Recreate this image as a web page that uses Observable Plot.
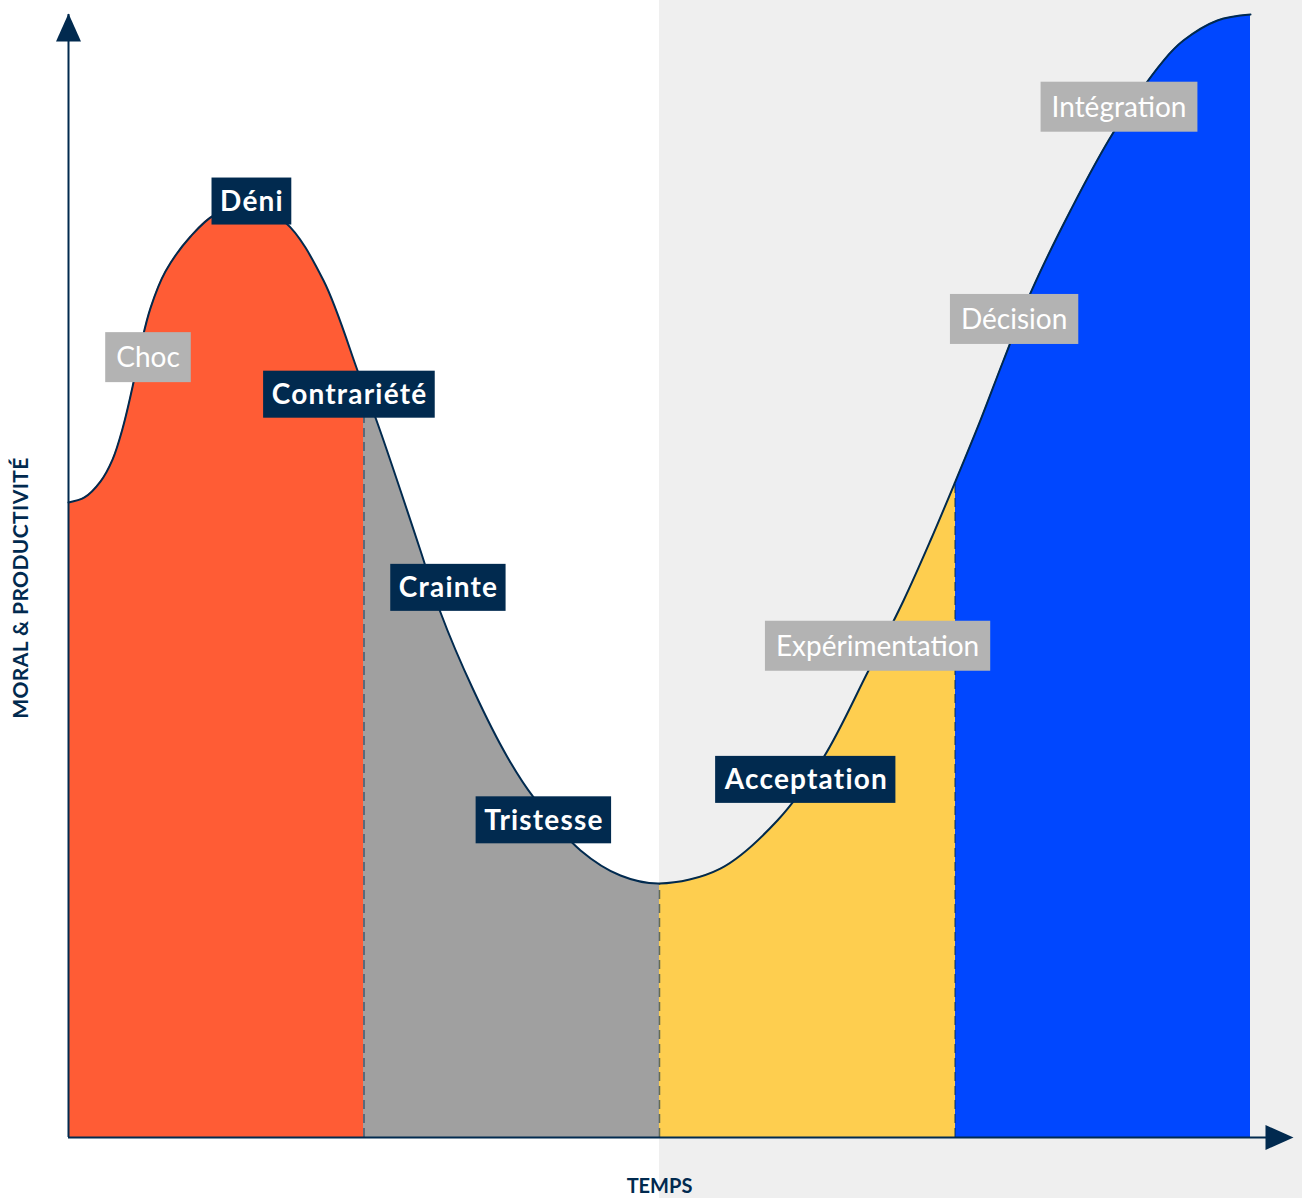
<!DOCTYPE html>
<html><head><meta charset="utf-8">
<script src="https://cdn.jsdelivr.net/npm/d3@7"></script>
<script src="https://cdn.jsdelivr.net/npm/@observablehq/plot@0.6"></script>
<style>
html,body{margin:0;padding:0;background:#fff;}
#chart svg{display:block;}
</style></head><body><div id="chart"></div>
<script>
// ---- data ----
const timeX = [0, 0.054, 0.108, 0.149, 0.183, 0.217, 0.247, 0.278, 0.328, 0.413, 0.497, 0.616, 0.734, 0.863, 0.978, 1.0, 1.046, 1.191, 1.259, 1.371, 1.486, 1.574, 1.733, 1.868, 2.0, 2.206, 2.399, 2.555, 2.704, 2.826, 2.917, 3.0, 3.086, 3.164, 3.255, 3.391, 3.536, 3.706, 3.773, 3.888, 4.0];
const moral = [56.55, 57.00, 58.41, 60.37, 63.13, 66.87, 70.79, 73.90, 77.11, 80.23, 82.19, 82.90, 81.48, 76.31, 68.30, 66.79, 63.58, 52.27, 46.75, 39.80, 33.84, 30.28, 25.56, 23.33, 22.62, 23.95, 28.23, 33.84, 41.41, 47.82, 53.16, 58.33, 63.85, 69.19, 75.16, 82.55, 89.49, 95.90, 97.68, 99.47, 100.0];
const stageBounds = [0, 1, 2, 3, 4];
const stageColors = ["#FF5C35", "#A0A0A0", "#FECE4F", "#0047FF"];
const labelText = ["Choc", "Déni", "Contrariété", "Crainte", "Tristesse", "Acceptation", "Expérimentation", "Décision", "Intégration"];
const labelX = [0.269, 0.621, 0.951, 1.286, 1.609, 2.497, 2.738, 3.200, 3.555];
const labelY = [69.4, 83.3, 66.1, 48.9, 28.2, 31.8, 43.7, 72.8, 91.7];
const labelKind = ["light", "dark", "dark", "dark", "dark", "dark", "light", "light", "light"];
const yTitle = "MORAL & PRODUCTIVITÉ";
const xTitle = "TEMPS";

// ---- build ----
const navy = "#012a4f";
const pts = timeX.map((x, i) => ({x, y: moral[i]}));
const inner = stageBounds.slice(1, -1);
const bounds = pts.filter(d => inner.includes(d.x));
const labels = labelText.map((t, i) => ({t, x: labelX[i], y: labelY[i], kind: labelKind[i]}));
const arrowHead = {draw(ctx) { ctx.moveTo(0, 0); ctx.lineTo(12.5, 28); ctx.lineTo(-12.5, 28); ctx.closePath(); }};
const font = "Lato, sans-serif";
const curve = "catmull-rom";

const plot = Plot.plot({
  width: 1302, height: 1198,
  marginLeft: 68, marginRight: 52, marginTop: 14, marginBottom: 61,
  x: {domain: [stageBounds[0], stageBounds[4]], axis: null},
  y: {domain: [0, 100], axis: null},
  style: {fontFamily: font, background: "transparent"},
  marks: [
    Plot.rect([0], {x1: stageBounds[2], x2: stageBounds[4], y1: 0, y2: 100, fill: "#efefef", insetRight: -52, insetTop: -14, insetBottom: -61}),
    Plot.areaY(pts, {x: "x", y: "y", curve, fill: "url(#stageFill)"}),
    Plot.ruleX(bounds, {x: "x", y1: 0, y2: "y", stroke: navy, strokeOpacity: 0.6, strokeDasharray: "9,5", strokeWidth: 1.5}),
    Plot.lineY(pts, {x: "x", y: "y", curve, stroke: navy, strokeWidth: 2}),
    Plot.ruleX([stageBounds[0]], {stroke: navy, strokeWidth: 2}),
    Plot.ruleY([0], {stroke: navy, strokeWidth: 2, insetRight: -20}),
    Plot.dot([0], {x: stageBounds[0], y: 100, symbol: arrowHead, r: 5, fill: navy, dy: -1}),
    Plot.dot([0], {x: stageBounds[4], y: 0, symbol: arrowHead, r: 5, fill: navy, rotate: 90, dx: 43}),
    Plot.text(labels.filter(d => d.kind === "dark"), {x: "x", y: "y", text: "t", fill: "white", fontSize: 28, fontWeight: 700}),
    Plot.text(labels.filter(d => d.kind === "light"), {x: "x", y: "y", text: "t", fill: "white", fontSize: 28, fontWeight: 400}),
    Plot.text([yTitle], {text: d => d, frameAnchor: "left", textAnchor: "middle", rotate: -90, dx: -47, dy: 12, fill: navy, fontSize: 21, fontWeight: 700}),
    Plot.text([xTitle], {text: d => d, frameAnchor: "bottom", dy: 55, fill: navy, fontSize: 20, fontWeight: 700})
  ]
});
document.getElementById("chart").appendChild(plot);

// stage gradient (hard stops at the stage boundaries, positions from the x scale)
const ns = "http://www.w3.org/2000/svg";
const xs = plot.scale("x");
const sx = d3.scaleLinear(xs.domain, xs.range);
const defs = document.createElementNS(ns, "defs");
const lg = document.createElementNS(ns, "linearGradient");
lg.setAttribute("id", "stageFill");
lg.setAttribute("gradientUnits", "userSpaceOnUse");
lg.setAttribute("x1", sx(stageBounds[0])); lg.setAttribute("x2", sx(stageBounds[4]));
lg.setAttribute("y1", 0); lg.setAttribute("y2", 0);
const span = sx(stageBounds[4]) - sx(stageBounds[0]);
stageColors.forEach((c, i) => {
  [stageBounds[i], stageBounds[i + 1]].forEach(b => {
    const s = document.createElementNS(ns, "stop");
    s.setAttribute("offset", (sx(b) - sx(stageBounds[0])) / span);
    s.setAttribute("stop-color", c);
    lg.appendChild(s);
  });
});
defs.appendChild(lg);
plot.insertBefore(defs, plot.firstChild);

// letter spacing on titles
plot.querySelectorAll("text").forEach(t => {
  if (t.textContent === yTitle) t.setAttribute("letter-spacing", "0.4");
});

// label boxes (text is positioned by its transform; box centred on the anchor)
const boxStyle = {dark: {fill: navy, padX: 8, h: 47, ls: 1.2}, light: {fill: "#b3b3b3", padX: 11, h: 50, ls: 0}};
plot.querySelectorAll("text").forEach(t => {
  const i = labelText.indexOf(t.textContent);
  if (i < 0) return;
  const st = boxStyle[labelKind[i]];
  if (st.ls) t.setAttribute("letter-spacing", st.ls);
  const bb = t.getBBox();
  const r = document.createElementNS(ns, "rect");
  const tr = t.getAttribute("transform");
  let ax = 0, ay = 0;
  if (!tr) { ax = 0; ay = parseFloat(t.getAttribute("y")) || 0; }
  r.setAttribute("x", bb.x - st.padX + (st.ls ? -st.ls / 2 : 0));
  r.setAttribute("width", bb.width + 2 * st.padX);
  r.setAttribute("y", ay - st.h / 2 - 1);
  r.setAttribute("height", st.h);
  r.setAttribute("fill", st.fill);
  if (tr) r.setAttribute("transform", tr);
  t.parentNode.insertBefore(r, t);
});
</script>
</body></html>
